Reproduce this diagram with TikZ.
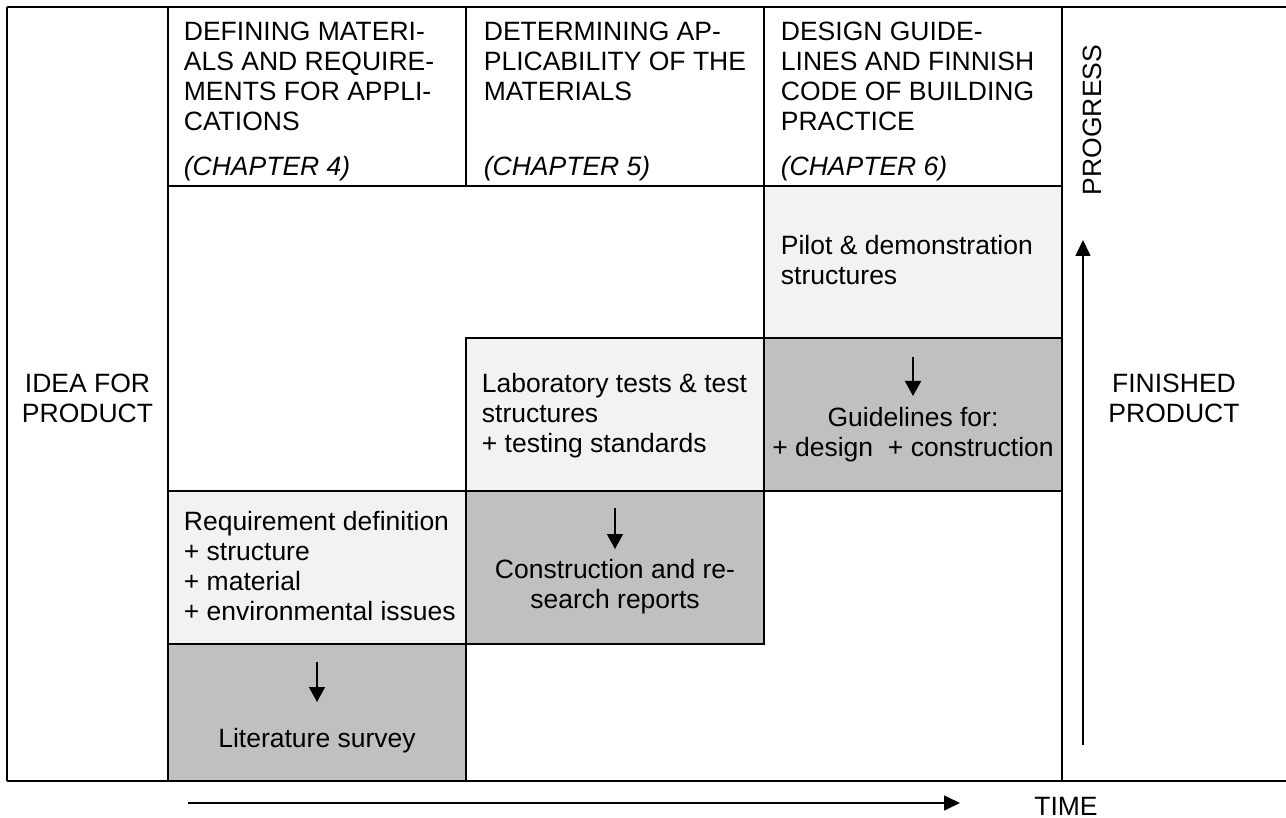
\documentclass[tikz,border=0pt]{standalone}
\usepackage{fontspec}
\setmainfont{Liberation Sans}
\usetikzlibrary{arrows.meta}
\definecolor{lightfill}{HTML}{F2F2F2}
\definecolor{darkfill}{HTML}{C0C0C0}
\newcommand{\fs}{\fontsize{26.5}{30}\selectfont}
\newcommand{\blockL}[1]{\parbox[t]{296pt}{\raggedright\fs #1}}
\newcommand{\blockC}[1]{\parbox[t]{296pt}{\centering\fs #1}}
\begin{document}
\begin{tikzpicture}[x=1pt,y=-1pt,line width=1.8pt,
  cell/.style={draw=black,line width=1.8pt,inner sep=0pt,minimum width=298pt},
  light/.style={cell,fill=lightfill},
  dark/.style={cell,fill=darkfill},
  lt/.style={inner sep=0pt,anchor=base west},
  ct/.style={inner sep=0pt,anchor=base},
  darr/.style={line width=1.6pt,-{Triangle[width=16pt,length=15pt]}},
  bigarr/.style={line width=1.6pt,-{Triangle[width=15pt,length=16pt]}}]
\useasboundingbox (0,0) rectangle (1286,818);
% frame
\draw (7,7) -- (1286,7);
\draw (7,781) -- (1286,781);
\draw (7,7) -- (7,781);
\draw (168,7) -- (168,781);
\draw (1062,7) -- (1062,781);
% header cells
\node[cell,minimum height=179pt] (h1) at (317,96.5) {};
\node[cell,minimum height=179pt] (h2) at (615,96.5) {};
\node[cell,minimum height=179pt] (h3) at (913,96.5) {};
% boxes
\node[light,minimum height=152pt] (pilot) at (913,262) {};
\node[dark,minimum height=153pt] (guide) at (913,414.5) {};
\node[light,minimum height=153pt] (lab) at (615,414.5) {};
\node[dark,minimum height=153pt] (constr) at (615,567.5) {};
\node[light,minimum height=153pt] (req) at (317,567.5) {};
\node[dark,minimum height=137pt] (lit) at (317,712.5) {};
% header texts
\node[lt] (t1) at (183,41) {\blockL{DEFINING MATERI-\\ALS AND REQUIRE-\\MENTS FOR APPLI-\\CATIONS}};
\node[lt] (c1) at (183,176) {\fs\itshape (CHAPTER 4)};
\node[lt] (t2) at (483,41) {\blockL{DETERMINING AP-\\PLICABILITY OF THE\\MATERIALS}};
\node[lt] (c2) at (483,176) {\fs\itshape (CHAPTER 5)};
\node[lt] (t3) at (780,41) {\blockL{DESIGN GUIDE-\\LINES AND FINNISH\\CODE OF BUILDING\\PRACTICE}};
\node[lt] (c3) at (780,176) {\fs\itshape (CHAPTER 6)};
% side texts
\node[ct] (idea) at (87.5,393) {\parbox[t]{150pt}{\centering\fs IDEA FOR\\PRODUCT}};
\node[ct] (fin) at (1174,393) {\parbox[t]{200pt}{\centering\fs FINISHED\\PRODUCT}};
\node[inner sep=0pt,rotate=90] (prog) at (1092,120) {\fs PROGRESS};
\node[inner sep=0pt,anchor=base] (time) at (1066,815) {\fs TIME};
% box texts
\node[lt] (tpilot) at (780,255) {\blockL{Pilot \& demonstration\\structures}};
\node[ct] (tguide) at (913,427) {\blockC{Guidelines for:\\+ design~ + construction}};
\node[lt] (tlab) at (481,393) {\blockL{Laboratory tests \& test\\structures\\+ testing standards}};
\node[ct] (tconstr) at (615,578) {\blockC{Construction and re-\\search reports}};
\node[lt] (treq) at (183,530) {\blockL{Requirement definition\\+ structure\\+ material\\+ environmental issues}};
\node[ct] (tlit) at (317,747) {\blockC{Literature survey}};
% small arrows
\coordinate (ga) at (913,357); \coordinate (gb) at (913,396);
\draw[darr] (ga) -- (gb);
\coordinate (ca) at (615,508); \coordinate (cb) at (615,549);
\draw[darr] (ca) -- (cb);
\coordinate (la) at (317,662); \coordinate (lb) at (317,702);
\draw[darr] (la) -- (lb);
% progress and time arrows
\coordinate (pa) at (1083,745); \coordinate (pb) at (1083,240);
\draw[bigarr] (pa) -- (pb);
\coordinate (ta) at (188,803); \coordinate (tb) at (960,803);
\draw[bigarr] (ta) -- (tb);
\end{tikzpicture}
\end{document}
